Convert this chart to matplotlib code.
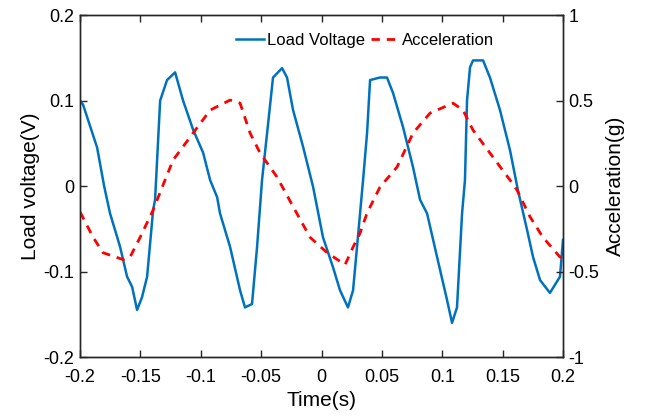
import matplotlib.pyplot as plt
import numpy as np

plt.rcParams['font.family'] = ['Liberation Sans', 'DejaVu Sans']

# load voltage (V)
t_volt = [-0.2000, -0.1975, -0.1917, -0.1859, -0.1801, -0.1752, -0.1669, -0.1611, -0.1569, -0.1528,
          -0.1487, -0.1445, -0.1395, -0.1379, -0.1337, -0.1280, -0.1213, -0.1147, -0.1064, -0.0981,
          -0.0923, -0.0865, -0.0841, -0.0758, -0.0675, -0.0634, -0.0576, -0.0534, -0.0493, -0.0451,
          -0.0402, -0.0327, -0.0286, -0.0236, -0.0153, -0.0070, 0.0012, 0.0095, 0.0153, 0.0219,
          0.0261, 0.0294, 0.0344, 0.0377, 0.0402, 0.0484, 0.0542, 0.0592, 0.0675, 0.0758,
          0.0816, 0.0874, 0.0957, 0.1039, 0.1081, 0.1122, 0.1164, 0.1188, 0.1205, 0.1230,
          0.1255, 0.1338, 0.1395, 0.1478, 0.1561, 0.1627, 0.1702, 0.1752, 0.1810, 0.1892,
          0.1975, 0.2000]
v_volt = [0.100, 0.095, 0.070, 0.045, 0.000, -0.032, -0.071, -0.106, -0.118, -0.145,
          -0.130, -0.106, -0.028, -0.016, 0.100, 0.124, 0.133, 0.100, 0.066, 0.039,
          0.007, -0.013, -0.032, -0.071, -0.122, -0.142, -0.138, -0.071, 0.007, 0.062,
          0.127, 0.138, 0.127, 0.089, 0.046, -0.001, -0.060, -0.095, -0.122, -0.142,
          -0.122, -0.071, 0.007, 0.062, 0.124, 0.127, 0.127, 0.109, 0.069, 0.022,
          -0.016, -0.032, -0.083, -0.133, -0.160, -0.142, -0.032, 0.007, 0.100, 0.139,
          0.147, 0.147, 0.127, 0.089, 0.042, -0.005, -0.051, -0.083, -0.110, -0.125,
          -0.106, -0.063]

# acceleration (g)
t_acc = [-0.2000, -0.1892, -0.1810, -0.1644, -0.1586, -0.1503, -0.1395, -0.1313, -0.1230, -0.1064,
         -0.0923, -0.0758, -0.0675, -0.0592, -0.0509, -0.0369, -0.0236, -0.0095, 0.0046, 0.0195,
         0.0261, 0.0319, 0.0377, 0.0484, 0.0625, 0.0758, 0.0899, 0.1089, 0.1172, 0.1255,
         0.1395, 0.1561, 0.1619, 0.1727, 0.1834, 0.1975, 0.2000]
a_acc = [-0.152, -0.300, -0.390, -0.430, -0.415, -0.300, -0.140, 0.006, 0.152, 0.310,
         0.444, 0.503, 0.485, 0.310, 0.193, 0.053, -0.120, -0.300, -0.390, -0.460,
         -0.357, -0.275, -0.158, -0.006, 0.111, 0.310, 0.427, 0.485, 0.444, 0.327,
         0.193, 0.035, -0.023, -0.180, -0.300, -0.415, -0.420]

fig = plt.figure(figsize=(6.46, 4.2), dpi=100)
ax = fig.add_axes([0.124, 0.15, 0.7475, 0.814])
ax2 = ax.twinx()

l1, = ax.plot(t_volt, v_volt, color='#0072BD', lw=1.8, label='Load Voltage')
l2, = ax2.plot(t_acc, a_acc, color='#FF0000', lw=2, ls=(0, (3, 2.5)), label='Acceleration')

ax.set_xlim(-0.2, 0.2)
ax.set_ylim(-0.2, 0.2)
ax2.set_ylim(-1, 1)
ax.set_xticks(np.arange(-0.2, 0.21, 0.05))
ax.set_xticklabels(['-0.2', '-0.15', '-0.1', '-0.05', '0', '0.05', '0.1', '0.15', '0.2'])
ax.set_yticks([-0.2, -0.1, 0, 0.1, 0.2])
ax.set_yticklabels(['-0.2', '-0.1', '0', '0.1', '0.2'])
ax2.set_yticks([-1, -0.5, 0, 0.5, 1])
ax2.set_yticklabels(['-1', '-0.5', '0', '0.5', '1'])

for a in (ax, ax2):
    a.tick_params(direction='in', length=5, width=1, labelsize=13, colors='#262626',
                  labelcolor='black', pad=4)
    for s in a.spines.values():
        s.set_color('#262626')
        s.set_linewidth(1)
ax.tick_params(top=True)
ax.tick_params(axis='x', pad=9)

ax.set_xlabel('Time(s)', fontsize=15, labelpad=3)
ax.set_ylabel('Load voltage(V)', fontsize=15, labelpad=3)
ax2.set_ylabel('Acceleration(g)', fontsize=15, labelpad=5)

ax.legend([l1, l2], ['Load Voltage', 'Acceleration'], loc='center left', ncol=2,
          frameon=False, fontsize=12, handlelength=1.7, columnspacing=0.35,
          handletextpad=0.15, borderpad=0, borderaxespad=0,
          bbox_to_anchor=(0.323, 0.927))

fig.savefig('out.png', dpi=100)
